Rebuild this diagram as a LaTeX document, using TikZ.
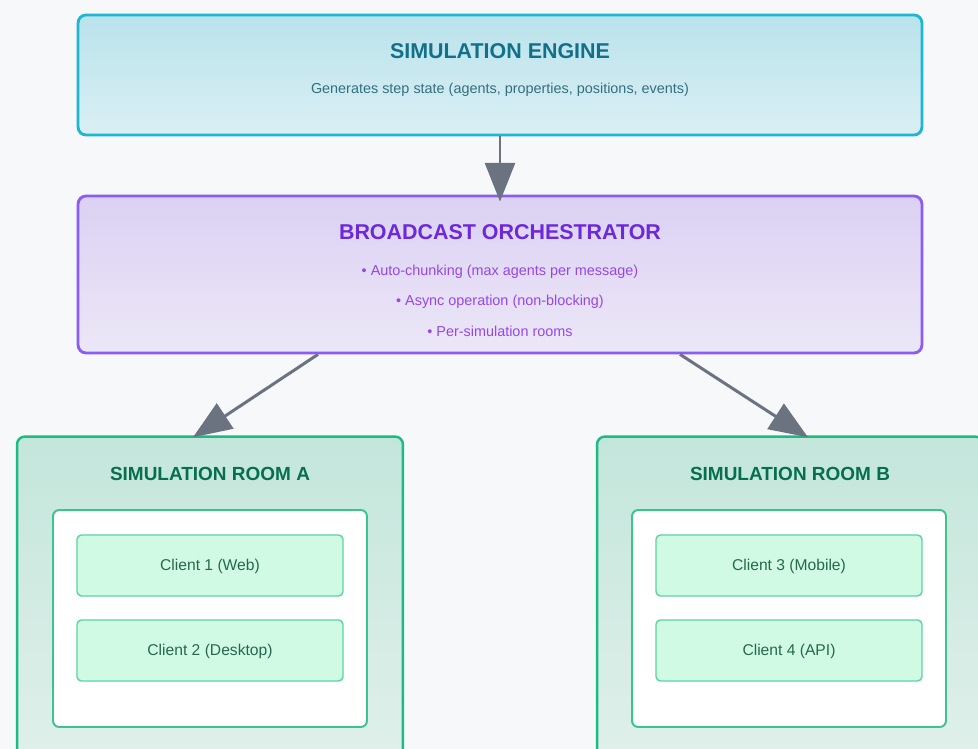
\documentclass[tikz,border=0pt]{standalone}
\usepackage{fontspec}
\setmainfont{Liberation Sans}
\usepackage{tikz}
\usetikzlibrary{arrows.meta, positioning, calc}

\definecolor{pagebg}{HTML}{F7F8FA}
\definecolor{engline}{HTML}{1DB6D3}
\definecolor{engtop}{HTML}{BAE3EB}
\definecolor{engbot}{HTML}{DAEFF4}
\definecolor{engtitle}{HTML}{12708A}
\definecolor{engtext}{HTML}{33707F}
\definecolor{orchline}{HTML}{8B5CF6}
\definecolor{orchtop}{HTML}{DBD1F3}
\definecolor{orchbot}{HTML}{ECE7F7}
\definecolor{orchtitle}{HTML}{6D28D9}
\definecolor{orchtext}{HTML}{9647E6}
\definecolor{roomline}{HTML}{1DBA84}
\definecolor{roomtop}{HTML}{C3E6DB}
\definecolor{roombot}{HTML}{E1F0EB}
\definecolor{roomtitle}{HTML}{066F4D}
\definecolor{innerline}{HTML}{3CC48F}
\definecolor{clientfill}{HTML}{D1FAE5}
\definecolor{clientline}{HTML}{5CD3A0}
\definecolor{clienttext}{HTML}{25684F}
\definecolor{arrowgray}{HTML}{6B7280}

\begin{document}
\begin{tikzpicture}[x=0.02cm, y=-0.02cm,
	mainbox/.style={rounded corners=4.5pt, line width=1.6pt, minimum width=16.88cm},
	roombox/.style={rounded corners=4.5pt, line width=1.4pt, draw=roomline,
		top color=roomtop, bottom color=roombot, minimum width=7.72cm, minimum height=6.66cm},
	innerbox/.style={rounded corners=3.5pt, line width=1.1pt, draw=innerline, fill=white,
		minimum width=6.28cm, minimum height=4.34cm},
	clientbox/.style={rounded corners=2.5pt, line width=0.8pt, draw=clientline, fill=clientfill,
		minimum width=5.32cm, minimum height=1.22cm, text=clienttext, text depth=0.5pt,
		font=\fontsize{8.9}{10}\selectfont},
	bigtitle/.style={font=\fontsize{12.2}{14}\selectfont\bfseries},
	smalltext/.style={font=\fontsize{8.2}{10}\selectfont},
	flow/.style={-{Triangle[length=22pt, width=17pt]}, line width=1.7pt, draw=arrowgray}]

	\useasboundingbox (0,0) rectangle (978,749);
	\clip (0,0) rectangle (978,749);
	\fill[pagebg] (0,0) rectangle (978,749);

	%engine
	\node[mainbox, draw=engline, top color=engtop, bottom color=engbot,
		minimum height=2.4cm] (engine) at (500,75) {};
	\node[bigtitle, text=engtitle] (enginetitle) at (500,51) {SIMULATION ENGINE};
	\node[smalltext, text=engtext] (enginetext) at (500,90)
		{Generates step state (agents, properties, positions, events)};

	%orchestrator
	\node[mainbox, draw=orchline, top color=orchtop, bottom color=orchbot,
		minimum height=3.14cm] (orch) at (500,274.5) {};
	\node[bigtitle, text=orchtitle] (orchtitle) at (500,232) {BROADCAST ORCHESTRATOR};
	\node[smalltext, text=orchtext] (bullet1) at (500,271.5) {• Auto-chunking (max agents per message)};
	\node[smalltext, text=orchtext] (bullet2) at (500,301.5) {• Async operation (non-blocking)};
	\node[smalltext, text=orchtext] (bullet3) at (500,331) {• Per-simulation rooms};

	%room A
	\node[roombox] (roomA) at (210,603) {};
	\node[font=\fontsize{10.8}{12}\selectfont\bfseries, text=roomtitle] (titleA) at (210,474) {SIMULATION ROOM A};
	\node[innerbox] (innerA) at (210,618.5) {};
	\node[clientbox] (client1) at (210,565.5) {Client 1 (Web)};
	\node[clientbox] (client2) at (210,650.5) {Client 2 (Desktop)};

	%room B
	\node[roombox] (roomB) at (790,603) {};
	\node[font=\fontsize{10.8}{12}\selectfont\bfseries, text=roomtitle] (titleB) at (790,474) {SIMULATION ROOM B};
	\node[innerbox] (innerB) at (789,618.5) {};
	\node[clientbox] (client3) at (789,565.5) {Client 3 (Mobile)};
	\node[clientbox] (client4) at (789,650.5) {Client 4 (API)};

	%arrows
	\draw[flow] (engine.south) -- ($(orch.north)+(0,7)$);
	\draw[flow] ($(orch.south)+(-182,0)$) -- ($(roomA.north)+(-17,2)$);
	\draw[flow] ($(orch.south)+(180,0)$) -- ($(roomB.north)+(18,2)$);

\end{tikzpicture}
\end{document}
